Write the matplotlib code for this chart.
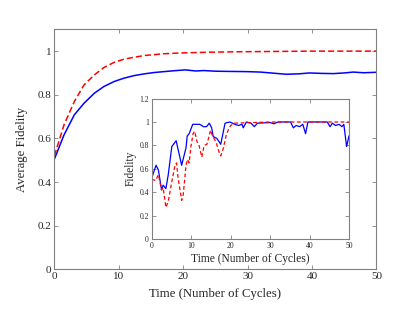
import matplotlib
matplotlib.use("Agg")
import matplotlib.pyplot as plt

plt.rcParams['font.family'] = ['Liberation Serif', 'DejaVu Serif']

# main plot: average fidelity vs time
t_avg = [0, 1.5, 3.1, 4.6, 6.2, 7.7, 9.3, 10.8, 12.4, 14, 15.5, 17, 18.5, 20.3,
         22, 23.2, 25, 27.3, 30, 32, 34, 36, 38, 39.6, 41.5, 43.3, 45, 46.4, 48, 50]
avg_blue = [0.505, 0.616, 0.708, 0.761, 0.807, 0.838, 0.861, 0.876, 0.888, 0.896,
            0.902, 0.906, 0.910, 0.914, 0.909, 0.911, 0.908, 0.907, 0.906, 0.904,
            0.899, 0.894, 0.896, 0.900, 0.898, 0.897, 0.900, 0.904, 0.901, 0.903]
t_red = [0, 1.5, 3.1, 4.6, 6.2, 7.7, 9.3, 10.8, 12.4, 14, 15.5, 17, 20, 24, 28, 32, 40, 50]
avg_red = [0.52, 0.662, 0.769, 0.845, 0.891, 0.925, 0.949, 0.963, 0.972, 0.980,
           0.984, 0.988, 0.992, 0.995, 0.997, 0.998, 1.0, 1.0]

# inset: single-run fidelity
t_in_blue = [0, 1.1, 1.7, 2.5, 2.9, 3.6, 4.2, 5.1, 6.2, 7.6, 8.7, 9.0, 9.5, 10.4,
             12.2, 13.1, 13.9, 14.6, 15.2, 15.6, 16.5, 17.5, 18.6, 19.8, 21.1,
             22.0, 22.9, 23.2, 24.0, 25.2, 26.0, 26.8, 30.0, 31.0, 32.0, 35.2,
             35.9, 36.6, 37.5, 38.3, 39.0, 39.6, 44.5, 45.2, 45.8, 46.6, 47.5,
             48.2, 48.7, 49.4, 50]
f_blue = [0.52, 0.63, 0.59, 0.42, 0.46, 0.43, 0.55, 0.79, 0.84, 0.63, 0.78, 0.88,
          0.90, 0.98, 0.98, 0.96, 0.96, 0.99, 0.95, 0.875, 0.86, 0.81, 0.99, 1.0,
          0.98, 0.97, 0.98, 0.95, 1.0, 0.99, 0.96, 0.99, 0.995, 0.985, 1.0, 1.0,
          0.95, 0.97, 0.96, 0.98, 0.90, 1.0, 1.0, 0.96, 0.99, 0.97, 0.98, 0.96,
          0.98, 0.79, 0.88]
t_in_red = [0, 1.0, 1.7, 2.5, 2.9, 3.6, 4.2, 5.1, 5.9, 6.3, 6.7, 7.6, 8.0, 8.7,
            9.1, 9.5, 9.9, 10.5, 10.9, 11.5, 12.0, 12.7, 13.3, 14.0, 14.4, 14.9,
            15.5, 16.3, 17.1, 17.5, 18.2, 18.9, 19.5, 20.0, 21.0, 30, 40, 50]
f_red = [0.51, 0.50, 0.55, 0.42, 0.44, 0.27, 0.32, 0.49, 0.63, 0.65, 0.52, 0.33,
         0.38, 0.63, 0.68, 0.65, 0.78, 0.90, 0.92, 0.83, 0.80, 0.70, 0.80, 0.81,
         0.86, 0.93, 0.875, 0.83, 0.74, 0.71, 0.78, 0.89, 0.94, 0.97, 0.99, 1.0,
         1.0, 1.0]

spine_col = '#808080'
text_col = '#262626'


def style_axes(ax, fs):
    for s in ax.spines.values():
        s.set_color(spine_col)
        s.set_linewidth(0.8)
    ax.tick_params(direction='in', top=True, right=True, color=spine_col,
                   labelsize=fs, labelcolor=text_col, length=3, width=0.6, pad=2)


fig = plt.figure(figsize=(4.15, 3.12), dpi=100)
ax = fig.add_axes([0.131, 0.137, 0.776, 0.769])
ax.plot(t_avg, avg_blue, color='blue', lw=1.1)
ax.plot(t_red, avg_red, color='red', lw=1.1, ls=(0, (4, 2)))
ax.set_xlim(0, 50)
ax.set_ylim(0, 1.1)
ax.set_xticks([0, 10, 20, 30, 40, 50])
ax.set_yticks([0, 0.2, 0.4, 0.6, 0.8, 1])
ax.set_yticklabels(['0', '0.2', '0.4', '0.6', '0.8', '1'])
style_axes(ax, 8)
ax.set_xlabel('Time (Number of Cycles)', fontsize=9.2, color=text_col, labelpad=5)
ax.set_ylabel('Average Fidelity', fontsize=9.2, color=text_col, labelpad=7)

ins = fig.add_axes([0.3655, 0.234, 0.4754, 0.45])
ins.plot(t_in_blue, f_blue, color='blue', lw=0.9)
ins.plot(t_in_red, f_red, color='red', lw=0.9, ls=(0, (3, 2)))
ins.set_xlim(0, 50)
ins.set_ylim(0, 1.2)
ins.set_xticks([0, 10, 20, 30, 40, 50])
ins.set_yticks([0, 0.2, 0.4, 0.6, 0.8, 1, 1.2])
ins.set_yticklabels(['0', '0.2', '0.4', '0.6', '0.8', '1', '1.2'])
style_axes(ins, 5.5)
ins.set_xlabel('Time (Number of Cycles)', fontsize=8.3, color=text_col, labelpad=2)
ins.set_ylabel('Fidelity', fontsize=8.3, color=text_col, labelpad=2)

fig.savefig('out.png', dpi=100)
